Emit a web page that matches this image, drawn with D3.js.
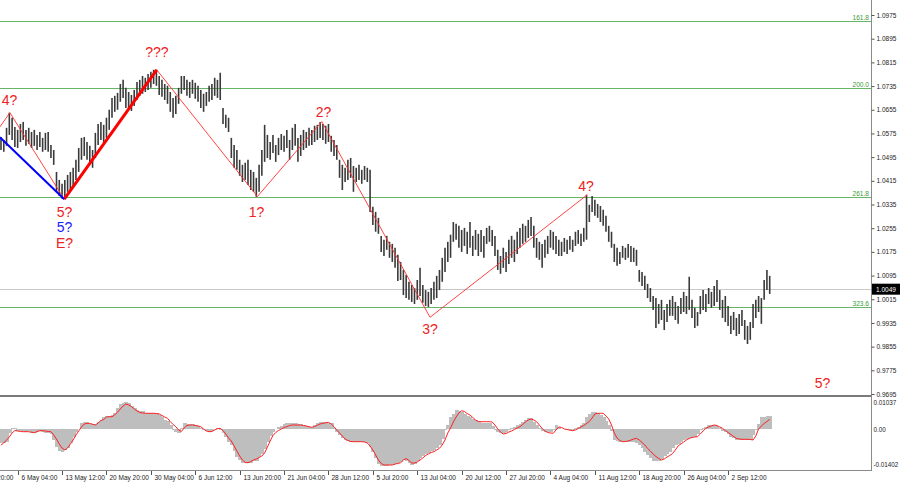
<!DOCTYPE html>
<html><head><meta charset="utf-8">
<script src="https://cdn.jsdelivr.net/npm/d3@7"></script>
<style>body{margin:0;background:#fff}svg{display:block}text{font-family:"Liberation Sans",Arial,sans-serif}</style>
</head><body><svg id="c" width="900" height="485"></svg>
<script>
const barHigh=[
1.0563,1.0553,1.0594,1.0645,1.0628,1.0597,1.0587,1.0607,1.0614,1.0587,
1.0594,1.0580,1.0587,1.0570,1.0580,1.0560,1.0577,1.0580,1.0536,1.0519,
1.0445,1.0418,1.0405,1.0418,1.0435,1.0445,1.0459,1.0486,1.0526,1.0560,
1.0563,1.0546,1.0533,1.0519,1.0577,1.0607,1.0614,1.0604,1.0628,1.0655,
1.0695,1.0702,1.0712,1.0742,1.0756,1.0729,1.0715,1.0705,1.0722,1.0749,
1.0756,1.0769,1.0763,1.0776,1.0783,1.0790,1.0790,1.0769,1.0756,1.0742,
1.0736,1.0715,1.0695,1.0702,1.0729,1.0769,1.0769,1.0756,1.0749,1.0756,
1.0746,1.0736,1.0722,1.0709,1.0715,1.0736,1.0742,1.0763,1.0756,1.0780,
1.0661,1.0638,1.0628,1.0560,1.0536,1.0519,1.0486,1.0469,1.0476,1.0486,
1.0452,1.0445,1.0425,1.0469,1.0519,1.0604,1.0570,1.0546,1.0570,1.0536,
1.0560,1.0573,1.0567,1.0587,1.0553,1.0594,1.0607,1.0560,1.0570,1.0587,
1.0580,1.0594,1.0587,1.0601,1.0604,1.0614,1.0607,1.0601,1.0607,1.0567,
1.0553,1.0536,1.0486,1.0469,1.0459,1.0486,1.0492,1.0465,1.0459,1.0469,
1.0452,1.0465,1.0459,1.0452,1.0327,1.0310,1.0290,1.0229,1.0216,1.0229,
1.0209,1.0202,1.0189,1.0165,1.0141,1.0114,1.0097,1.0074,1.0063,1.0053,
1.0080,1.0121,1.0063,1.0046,1.0040,1.0053,1.0074,1.0094,1.0114,1.0155,
1.0189,1.0209,1.0233,1.0276,1.0270,1.0263,1.0249,1.0256,1.0243,1.0276,
1.0229,1.0249,1.0236,1.0249,1.0229,1.0256,1.0263,1.0249,1.0229,1.0182,
1.0161,1.0189,1.0175,1.0216,1.0229,1.0216,1.0243,1.0256,1.0270,1.0263,
1.0283,1.0293,1.0263,1.0222,1.0209,1.0202,1.0216,1.0229,1.0249,1.0243,
1.0229,1.0216,1.0209,1.0222,1.0216,1.0229,1.0216,1.0243,1.0249,1.0236,
1.0256,1.0368,1.0334,1.0364,1.0351,1.0337,1.0330,1.0317,1.0297,1.0263,
1.0243,1.0202,1.0189,1.0175,1.0195,1.0189,1.0202,1.0195,1.0189,1.0182,
1.0114,1.0107,1.0094,1.0067,1.0053,1.0026,1.0019,0.9999,1.0013,0.9979,
0.9999,1.0013,1.0026,1.0006,0.9992,1.0019,1.0040,1.0026,1.0091,1.0013,
0.9986,0.9972,1.0026,1.0046,1.0033,1.0053,1.0040,1.0060,1.0080,1.0046,
1.0013,1.0026,0.9992,0.9959,0.9972,0.9952,0.9965,0.9979,0.9945,0.9925,
0.9938,0.9999,1.0013,1.0026,1.0019,1.0080,1.0114,1.0094];
const barLow=[
1.0519,1.0513,1.0533,1.0570,1.0553,1.0529,1.0526,1.0546,1.0553,1.0533,
1.0540,1.0526,1.0533,1.0519,1.0529,1.0513,1.0519,1.0513,1.0492,1.0469,
1.0378,1.0364,1.0354,1.0354,1.0378,1.0384,1.0398,1.0418,1.0445,1.0486,
1.0499,1.0486,1.0472,1.0459,1.0492,1.0536,1.0553,1.0543,1.0560,1.0587,
1.0628,1.0648,1.0655,1.0682,1.0695,1.0661,1.0655,1.0651,1.0668,1.0688,
1.0702,1.0709,1.0715,1.0722,1.0729,1.0742,1.0736,1.0705,1.0699,1.0688,
1.0675,1.0648,1.0628,1.0641,1.0675,1.0709,1.0722,1.0702,1.0695,1.0709,
1.0692,1.0682,1.0661,1.0648,1.0668,1.0682,1.0688,1.0702,1.0695,1.0688,
1.0607,1.0594,1.0580,1.0492,1.0459,1.0452,1.0432,1.0411,1.0418,1.0401,
1.0384,1.0378,1.0361,1.0378,1.0432,1.0479,1.0492,1.0486,1.0509,1.0479,
1.0502,1.0519,1.0513,1.0526,1.0486,1.0519,1.0533,1.0479,1.0499,1.0519,
1.0526,1.0533,1.0536,1.0546,1.0553,1.0560,1.0553,1.0540,1.0546,1.0513,
1.0499,1.0486,1.0425,1.0384,1.0411,1.0418,1.0425,1.0378,1.0411,1.0418,
1.0405,1.0418,1.0411,1.0310,1.0266,1.0243,1.0236,1.0175,1.0161,1.0182,
1.0155,1.0141,1.0121,1.0077,1.0080,1.0029,1.0019,1.0013,1.0006,0.9999,
1.0013,1.0026,1.0003,0.9992,0.9989,0.9999,1.0013,1.0019,1.0046,1.0074,
1.0107,1.0141,1.0155,1.0209,1.0216,1.0189,1.0175,1.0195,1.0168,1.0189,
1.0161,1.0182,1.0161,1.0175,1.0155,1.0202,1.0209,1.0195,1.0161,1.0114,
1.0101,1.0121,1.0107,1.0134,1.0155,1.0141,1.0168,1.0189,1.0202,1.0209,
1.0222,1.0229,1.0189,1.0155,1.0148,1.0121,1.0155,1.0168,1.0189,1.0182,
1.0168,1.0161,1.0161,1.0175,1.0168,1.0182,1.0175,1.0195,1.0202,1.0195,
1.0209,1.0216,1.0276,1.0310,1.0297,1.0290,1.0276,1.0263,1.0243,1.0209,
1.0189,1.0141,1.0128,1.0134,1.0155,1.0148,1.0155,1.0141,1.0141,1.0128,
1.0074,1.0060,1.0046,1.0019,1.0006,0.9979,0.9918,0.9932,0.9945,0.9911,
0.9938,0.9959,0.9959,0.9945,0.9932,0.9965,0.9972,0.9965,0.9979,0.9952,
0.9918,0.9925,0.9965,0.9979,0.9972,0.9999,0.9986,0.9992,1.0006,0.9979,
0.9952,0.9938,0.9925,0.9898,0.9911,0.9891,0.9898,0.9925,0.9878,0.9864,
0.9878,0.9918,0.9952,0.9972,0.9932,1.0013,1.0046,1.0033];
const oscHist=[
-0.0055,-0.00531,-0.00499,-0.00157,0.0002,0.00039,-0.00079,-0.00098,-0.00098,-0.00118,
-0.00098,-0.00138,-0.00138,-0.00118,-0.00098,-0.00118,-0.00138,-0.00157,-0.00197,-0.00432,
-0.00707,-0.00865,-0.00892,-0.00825,-0.00747,-0.0055,-0.00314,-0.00118,0,0.00236,
0.00287,0.00275,0.00216,0.00197,0.00197,0.00275,0.00354,0.00472,0.00511,0.00511,
0.0055,0.00629,0.00814,0.00983,0.01041,0.01061,0.01022,0.00904,0.00814,0.00747,
0.00719,0.00688,0.00648,0.00648,0.00629,0.00648,0.00629,0.0055,0.00472,0.00354,
0.00314,0.00157,-0.00039,-0.00118,-0.00145,0.00039,0.00224,0.00197,0.00177,0.00177,
0.00157,0.00118,0.00039,-0.00039,-0.00098,-0.00106,-0.00059,0,0.00028,-0.00039,
-0.00169,-0.00314,-0.00511,-0.00629,-0.00865,-0.01089,-0.01218,-0.01336,-0.01348,-0.01348,
-0.01336,-0.01277,-0.01246,-0.011,-0.00983,-0.00786,-0.00511,-0.00275,-0.00106,0,
0.00079,0.00118,0.00177,0.00224,0.00224,0.00224,0.00224,0.00197,0.00177,0.00138,
0.00118,0.00098,0.0009,0.00157,0.00236,0.00287,0.00287,0.00287,0.00255,0.00224,
0.00039,-0.00106,-0.00236,-0.00354,-0.00432,-0.00472,-0.00499,-0.00499,-0.00499,-0.00499,
-0.00511,-0.00511,-0.0055,-0.00707,-0.00892,-0.0114,-0.01376,-0.01454,-0.01454,-0.01454,
-0.01434,-0.01415,-0.01356,-0.01317,-0.01285,-0.01218,-0.01238,-0.01336,-0.01415,-0.01376,
-0.01258,-0.01151,-0.01061,-0.00983,-0.00943,-0.00865,-0.00825,-0.00727,-0.00629,-0.00393,
-0.00039,0.00157,0.00483,0.0059,0.00747,0.00707,0.0068,0.0059,0.00511,0.00483,
0.00393,0.00334,0.00287,0.00255,0.00236,0.00224,0.00224,0.00118,-0.00039,-0.00118,
-0.00169,-0.00138,-0.00106,-0.00039,0.0002,0.0009,0.00157,0.00216,0.00287,0.00334,
0.0042,0.0042,0.00275,0.00157,0.00039,-0.00059,-0.00106,-0.00106,-0.00106,-0.00039,
0.00157,0.00079,-0.00012,-0.00012,-0.00031,-0.00039,-0.00039,0.0002,0.00079,0.00157,
0.00255,0.00483,0.0059,0.0068,0.00668,0.00629,0.0055,0.00472,0.00314,0.00157,
-0.00079,-0.00432,-0.00472,-0.00499,-0.00499,-0.00499,-0.00499,-0.00499,-0.00499,-0.0055,
-0.00629,-0.00747,-0.00892,-0.01022,-0.0114,-0.01246,-0.01246,-0.01246,-0.01179,-0.01061,
-0.00983,-0.00904,-0.00747,-0.00629,-0.0059,-0.00511,-0.00432,-0.00393,-0.00354,-0.00314,
-0.00303,-0.00197,-0.00039,0.00028,0.00098,0.00157,0.00157,0.00138,0.00118,0.00039,
-0.00059,-0.00106,-0.00197,-0.00303,-0.00354,-0.00413,-0.00432,-0.00432,-0.00432,-0.00432,
-0.00432,-0.00236,-0.00039,0.00197,0.00483,0.00491,0.00511,0.00511];
const oscSignal=[
-0.00629,-0.0055,-0.00432,-0.00314,-0.00157,-0.00059,-0.00079,-0.00098,-0.00106,-0.00106,
-0.00106,-0.00126,-0.00145,-0.00098,-0.00067,-0.00067,-0.00079,-0.00098,-0.00106,-0.00236,
-0.00393,-0.0059,-0.00747,-0.00825,-0.00747,-0.0059,-0.00432,-0.00236,-0.00079,0.00079,
0.00197,0.00224,0.00216,0.00189,0.00157,0.00236,0.00334,0.00373,0.00472,0.00483,
0.00483,0.0055,0.00668,0.00786,0.00904,0.00983,0.00943,0.00884,0.00786,0.00707,
0.00648,0.00629,0.00621,0.00617,0.00617,0.00617,0.00609,0.0059,0.00531,0.00472,
0.0042,0.00295,0.00177,0.0009,-0.00039,-0.00098,0.00039,0.00138,0.00157,0.00157,
0.00138,0.00118,0.0009,0,-0.00079,-0.00106,-0.00098,-0.00039,0.00012,0.00028,
-0.00059,-0.00197,-0.00354,-0.00472,-0.00668,-0.00865,-0.01061,-0.01218,-0.01317,-0.01324,
-0.01277,-0.01218,-0.01179,-0.0112,-0.01061,-0.00943,-0.00707,-0.00472,-0.00255,-0.00138,
-0.00059,0,0.00059,0.0009,0.00138,0.00157,0.00157,0.00157,0.00157,0.00138,
0.00118,0.0009,0.00067,0.00098,0.00149,0.00197,0.00224,0.00244,0.00263,0.00197,
0.0009,-0.00039,-0.00157,-0.00275,-0.00393,-0.00452,-0.00491,-0.00499,-0.00499,-0.00499,
-0.00499,-0.00511,-0.0055,-0.00668,-0.00825,-0.01022,-0.01218,-0.01356,-0.01415,-0.01415,
-0.01415,-0.01415,-0.01376,-0.01356,-0.01324,-0.01218,-0.01159,-0.01238,-0.01336,-0.01336,
-0.01297,-0.01218,-0.0114,-0.01041,-0.00983,-0.00924,-0.00892,-0.00825,-0.00758,-0.00629,
-0.00432,-0.00157,0.00039,0.00275,0.00472,0.00629,0.00719,0.00688,0.00609,0.0055,
0.00452,0.00354,0.00295,0.00287,0.00287,0.00287,0.00287,0.00275,0.00157,0,
-0.00118,-0.00197,-0.00177,-0.00118,-0.00079,-0.0002,0.00039,0.0009,0.00177,0.00275,
0.00354,0.00393,0.00354,0.00287,0.00157,0.0002,-0.00079,-0.00138,-0.00157,-0.00169,
-0.00039,0.00079,0.00059,0,-0.0002,-0.00047,-0.00067,-0.00039,0.0002,0.00079,
0.00138,0.00216,0.00295,0.00432,0.0059,0.00617,0.00617,0.00617,0.00511,0.00393,
0.00157,-0.00157,-0.00354,-0.00452,-0.00499,-0.00491,-0.00472,-0.00432,-0.00393,-0.00365,
-0.00432,-0.00531,-0.00629,-0.00766,-0.00865,-0.00983,-0.01081,-0.01159,-0.01218,-0.01179,
-0.011,-0.01041,-0.00963,-0.00825,-0.00668,-0.0059,-0.00511,-0.00432,-0.00373,-0.00334,
-0.00314,-0.00303,-0.00197,-0.00079,0.00028,0.00079,0.00118,0.00157,0.00138,0.00079,
0.00028,-0.00059,-0.00138,-0.00216,-0.00295,-0.00365,-0.00393,-0.00405,-0.00405,-0.00405,
-0.00413,-0.00432,-0.00275,0,0.00118,0.00216,0.00295,0.00381];
const priceTicks=[1.0975,1.0895,1.0815,1.0735,1.0655,1.0575,1.0495,1.0415,1.0335,1.0255,1.0175,1.0095,1.0015,0.9935,0.9855,0.9775,0.9695];
const oscTicks=[0.01037,0,-0.01402];
const oscTickLabels=["0.01037","0.00","-0.01402"];
const timeLabels=["28 Apr 20:00","6 May 04:00","13 May 12:00","20 May 20:00","30 May 04:00","6 Jun 12:00","13 Jun 20:00","21 Jun 04:00","28 Jun 12:00","5 Jul 20:00","13 Jul 04:00","20 Jul 12:00","27 Jul 20:00","4 Aug 04:00","11 Aug 12:00","18 Aug 20:00","26 Aug 04:00","2 Sep 12:00"];
const fibNames=["161.8","200.0","261.8","323.6"];
const fibPrices=[1.0955,1.0727,1.0360,0.9989];
const lastPrice=1.0049;
const redWaveBar=[-0.4,3.2,22.8,56.1,92.4,115.6,154.6,211.3];
const redWavePrice=[1.0597,1.0645,1.0353,1.0790,1.0362,1.0615,0.9954,1.0368];
const blueWaveBar=[-0.4,22.8];
const blueWavePrice=[1.0562,1.0353];
const waveText=["4?","5?","5?","E?","???","1?","2?","3?","4?","5?"];
const waveTextBar=[3.06,22.9,22.9,22.9,56.2,92.1,116.2,154.6,210.8,296.0];
const waveTextPrice=[1.0671,1.0293,1.0243,1.0189,1.0834,1.0293,1.0632,0.9896,1.0379,0.9716];
const waveTextBlue=[false,false,true,false,false,false,false,false,false,false];

const svg=d3.select("#c");
const W=871;
const FS=6.5;
const x=d3.scaleLinear().domain([0,277]).range([1,769.7]);
const y=d3.scaleLinear().domain([0.9695,1.0975]).range([394,15]);
const yo=d3.scaleLinear().domain([-0.01611,0.01218]).range([470,398]);
const barSpacing=x(1)-x(0);

const defs=svg.append("defs");
defs.append("clipPath").attr("id","cm").append("rect").attr("x",0).attr("y",0).attr("width",W).attr("height",395);
defs.append("clipPath").attr("id","co").append("rect").attr("x",0).attr("y",398).attr("width",W).attr("height",72);

const gm=svg.append("g").attr("clip-path","url(#cm)");
// fib levels
fibPrices.forEach((p,k)=>{
  gm.append("line").attr("x1",0).attr("x2",W).attr("y1",Math.round(y(p))+0.5).attr("y2",Math.round(y(p))+0.5)
    .attr("stroke","#66b566").attr("stroke-width",1.2);
  gm.append("text").attr("x",W-2).attr("y",Math.round(y(p))-1).attr("text-anchor","end")
    .attr("font-size",6.6).attr("fill","#3a9a3a").text(fibNames[k]);
});
// last price line
gm.append("line").attr("x1",0).attr("x2",W).attr("y1",Math.round(y(lastPrice))+0.5).attr("y2",Math.round(y(lastPrice))+0.5)
  .attr("stroke","#c8c8c8").attr("stroke-width",1);
// bars
gm.append("g").selectAll("line").data(barHigh).join("line")
  .attr("x1",(d,i)=>x(i)).attr("x2",(d,i)=>x(i))
  .attr("y1",d=>y(d)).attr("y2",(d,i)=>y(barLow[i]))
  .attr("stroke","#3a3a3a").attr("stroke-width",1.6);
// waves
const wl=d3.line().x(d=>x(d[0])).y(d=>y(d[1]));
const redPts=redWaveBar.map((b,k)=>[b,redWavePrice[k]]);
gm.append("path").attr("d",wl(redPts)).attr("fill","none").attr("stroke","#ff3030").attr("stroke-width",0.9);
gm.append("path").attr("d",wl(redPts.slice(2,4))).attr("fill","none").attr("stroke","#ff0000").attr("stroke-width",3);
gm.append("path").attr("d",wl(blueWaveBar.map((b,k)=>[b,blueWavePrice[k]]))).attr("fill","none").attr("stroke","#0000ff").attr("stroke-width",2);
waveText.forEach((t,k)=>{
  gm.append("text").attr("x",x(waveTextBar[k])).attr("y",y(waveTextPrice[k])).attr("text-anchor","middle")
    .attr("font-size",14).attr("fill",waveTextBlue[k]?"#1a1aff":"#ee2222").text(t);
});

// oscillator
const go=svg.append("g").attr("clip-path","url(#co)");
go.append("g").attr("shape-rendering","crispEdges").selectAll("rect").data(oscHist).join("rect")
  .attr("x",(d,i)=>x(i)-barSpacing/2).attr("width",barSpacing+1)
  .attr("y",d=>Math.min(yo(d),yo(0))).attr("height",d=>Math.abs(yo(d)-yo(0)))
  .attr("fill","#bebebe");
go.append("path").attr("d",d3.line().x((d,i)=>x(i)).y(d=>yo(d))(oscSignal))
  .attr("fill","none").attr("stroke","#ff2020").attr("stroke-width",1);

// frame lines
svg.append("line").attr("x1",0).attr("x2",W).attr("y1",396).attr("y2",396).attr("stroke","#7a7a7a").attr("stroke-width",2);
svg.append("line").attr("x1",0).attr("x2",W).attr("y1",470.5).attr("y2",470.5).attr("stroke","#8a8a8a").attr("stroke-width",1);
svg.append("line").attr("x1",W+0.5).attr("x2",W+0.5).attr("y1",0).attr("y2",471).attr("stroke","#8a8a8a").attr("stroke-width",1);

// right price axis
const ax=svg.append("g").attr("transform",`translate(${W+0.5},0)`)
  .call(d3.axisRight(y).tickValues(priceTicks).tickSize(3).tickPadding(2).tickFormat(d3.format(".4f")));
ax.select(".domain").remove();
ax.selectAll("line").attr("stroke","#555");
ax.selectAll("text").attr("font-size",FS).attr("fill","#222").attr("font-family","Liberation Sans, Arial, sans-serif");
// last price label
svg.append("rect").attr("x",W+1).attr("y",y(lastPrice)-5.5).attr("width",28).attr("height",11).attr("fill","#000");
svg.append("text").attr("x",W+5).attr("y",y(lastPrice)+2.4).attr("font-size",FS).attr("fill","#fff").text(lastPrice.toFixed(4));

// osc axis
const ao=svg.append("g").attr("transform",`translate(${W+0.5},0)`)
  .call(d3.axisRight(yo).tickValues(oscTicks).tickSize(0).tickPadding(2).tickFormat((d,k)=>oscTickLabels[k]));
ao.select(".domain").remove();
ao.selectAll("text").attr("font-size",FS-0.2).attr("fill","#222").attr("font-family","Liberation Sans, Arial, sans-serif");

// time axis
timeLabels.forEach((t,k)=>{
  const bi=-10+16*k; const xx=Math.round(x(bi))+0.5;
  svg.append("line").attr("x1",xx).attr("x2",xx).attr("y1",471).attr("y2",475).attr("stroke","#555");
  svg.append("text").attr("x",xx+3).attr("y",480).attr("font-size",FS).attr("fill","#222").text(t);
});
</script></body></html>
